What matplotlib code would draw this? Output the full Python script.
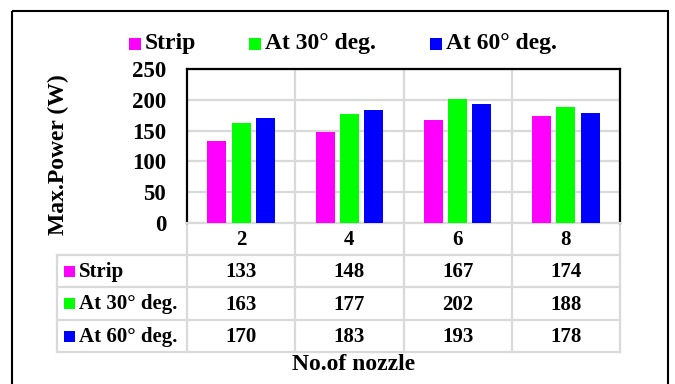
import matplotlib
matplotlib.use("Agg")
import matplotlib.pyplot as plt
from matplotlib.patches import Rectangle
import numpy as np

plt.rcParams["font.family"] = ["Liberation Serif", "DejaVu Serif"]
plt.rcParams["font.weight"] = "bold"

categories = ["2", "4", "6", "8"]
series_names = ["Strip", "At 30\u00b0 deg.", "At 60\u00b0 deg."]
strip = [133, 148, 167, 174]
at_30 = [163, 177, 202, 188]
at_60 = [170, 183, 193, 178]
series_values = [strip, at_30, at_60]
colors = ["#ff00ff", "#00ff00", "#0000ff"]
y_ticks = [0, 50, 100, 150, 200, 250]

W, H = 675, 384
GRID = "#d9d9d9"

# plot area in pixel coords (from top-left)
PL, PR, PT, PB = 187, 620, 69, 223
ROWS = [255, 287, 320, 352]
TABLE_LEFT = 57

fig = plt.figure(figsize=(W / 100, H / 100), dpi=100)

# overlay for border, legend and data table (pixel coords)
ov = fig.add_axes([0, 0, 1, 1])
ov.set_xlim(0, W)
ov.set_ylim(H, 0)
ov.axis("off")
ov.add_patch(Rectangle((12, 11), 656, 390, fill=False, edgecolor="black", linewidth=1.5))

ax = fig.add_axes([PL / W, 1 - PB / H, (PR - PL) / W, (PB - PT) / H])
x = np.arange(len(categories))
offsets = [-0.224, 0.0, 0.224]
for vals, off, col, name in zip(series_values, offsets, colors, series_names):
    ax.bar(x + off, vals, width=0.176, color=col, label=name, zorder=3)

ax.set_xlim(-0.5, len(categories) - 0.5)
ax.set_ylim(0, 250)
ax.set_yticks(y_ticks)
ax.set_yticklabels([str(v) for v in y_ticks], fontsize=16.5, fontweight="bold")
ax.set_xticks([])
ax.set_xticks(np.arange(len(categories) - 1) + 0.5, minor=True)
ax.tick_params(axis="y", length=0, pad=15)
ax.tick_params(axis="x", which="minor", length=0)
ax.grid(axis="y", color=GRID, linewidth=1.6, zorder=0)
ax.grid(axis="x", which="minor", color=GRID, linewidth=1.6, zorder=0)
for side in ["left", "top", "right"]:
    ax.spines[side].set_color("black")
    ax.spines[side].set_linewidth(1.6)
ax.spines["bottom"].set_color(GRID)
ax.spines["bottom"].set_linewidth(1.6)

# legend
leg_x = [129, 249, 430]
for lx, col, name in zip(leg_x, colors, series_names):
    ov.add_patch(Rectangle((lx, 38), 12, 12, color=col, linewidth=0))
    ov.text(lx + 16, 44, name, fontsize=17, fontweight="bold", va="center", ha="left")

# data table
col_w = (PR - PL) / len(categories)
edges = [PL + i * col_w for i in range(len(categories) + 1)]
for e in edges:
    ov.plot([e, e], [PB, ROWS[-1]], color=GRID, linewidth=1.6)
ov.plot([TABLE_LEFT, TABLE_LEFT], [ROWS[0], ROWS[-1]], color=GRID, linewidth=1.6)
for r in ROWS:
    ov.plot([TABLE_LEFT, PR], [r, r], color=GRID, linewidth=1.6)

for i, cat in enumerate(categories):
    cx = (edges[i] + edges[i + 1]) / 2
    ov.text(cx, (PB + ROWS[0]) / 2 + 1, cat, fontsize=15, fontweight="bold", ha="center", va="center")
    for j, vals in enumerate(series_values):
        cy = (ROWS[j] + ROWS[j + 1]) / 2 + 1
        ov.text(cx, cy, str(vals[i]), fontsize=15, fontweight="bold", ha="center", va="center")

for j, (col, name) in enumerate(zip(colors, series_names)):
    cy = (ROWS[j] + ROWS[j + 1]) / 2
    ov.add_patch(Rectangle((64, cy - 5.5), 11, 11, color=col, linewidth=0))
    ov.text(79, cy + 1, name, fontsize=15, fontweight="bold", ha="left", va="center")

ov.text(354, 365, "No.of nozzle", fontsize=17, fontweight="bold", ha="center", va="center")
ov.text(58, 155, "Max.Power (W)", fontsize=17, fontweight="bold", ha="center", va="center", rotation=90)

fig.savefig("out.png", dpi=100)
